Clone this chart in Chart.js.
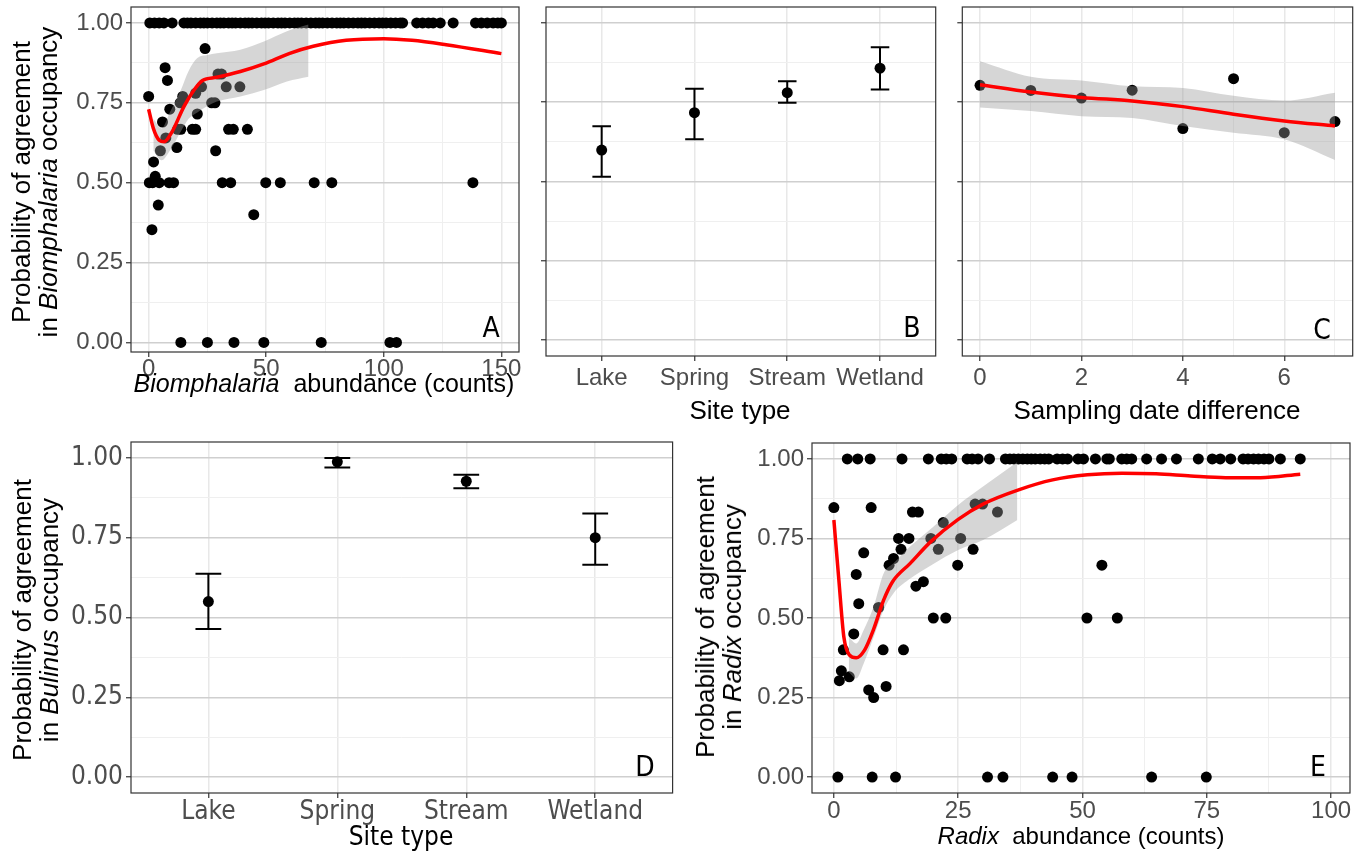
<!DOCTYPE html>
<html>
<head>
<meta charset="utf-8">
<script src="https://cdn.jsdelivr.net/npm/chart.js@4.4.1/dist/chart.umd.min.js"></script>
<style>
  body { margin: 0; width: 1364px; height: 859px; background: #fff; position: relative; overflow: hidden;
         font-family: 'Liberation Sans', Arial, sans-serif; }
  canvas { position: absolute; }
  .ytitle { position: absolute; transform: translate(-50%, -50%) rotate(-90deg); white-space: nowrap;
            text-align: center; font-size: 26px; line-height: 27px; color: #000; }
  .xtitle { position: absolute; transform: translate(-50%, -50%); white-space: nowrap; font-size: 26px; color: #000; }
  .narrow { font-family: 'Liberation Sans Narrow', 'DejaVu Sans Condensed', 'Liberation Sans', sans-serif; }
  .tag { position: absolute; transform: translate(-50%, -50%); font-size: 28px; color: #000;
         font-family: 'Liberation Sans Narrow', 'DejaVu Sans Condensed', 'Liberation Sans', sans-serif; }
</style>
</head>
<body>
<canvas id="cA"></canvas>
<canvas id="cB"></canvas>
<canvas id="cC"></canvas>
<canvas id="cD"></canvas>
<canvas id="cE"></canvas>

<div class="ytitle" style="left:35px;top:182px">Probability of agreement<br>in <i>Biomphalaria</i> occupancy</div>
<div class="xtitle" style="left:324px;top:383px;font-size:25px"><i>Biomphalaria</i>&nbsp; abundance (counts)</div>
<div class="xtitle" style="left:740px;top:410px">Site type</div>
<div class="xtitle" style="left:1157px;top:410px">Sampling date difference</div>
<div class="ytitle" style="left:36px;top:620px">Probability of agreement<br>in <i>Bulinus</i> occupancy</div>
<div class="xtitle narrow" style="left:401px;top:836px;font-size:26px">Site type</div>
<div class="ytitle" style="left:719px;top:617px">Probability of agreement<br>in <i>Radix</i> occupancy</div>
<div class="xtitle" style="left:1081px;top:836px;font-size:24px"><i>Radix</i>&nbsp; abundance (counts)</div>

<div class="tag" style="left:491px;top:327px">A</div>
<div class="tag" style="left:912px;top:327px">B</div>
<div class="tag" style="left:1322px;top:329px">C</div>
<div class="tag" style="left:645px;top:766px">D</div>
<div class="tag" style="left:1318px;top:766px">E</div>

<script>
//Panel A - Biomphalaria abundance vs agreement
//points sitting on agreement = 1
const bioTopCounts = [0.5, 2.5, 4.5, 6.5, 10, 15, 16.5, 18, 20, 22, 23.5, 25, 27, 29, 30.5, 32, 34, 35.5, 37, 39,
  41, 42.5, 44, 46, 48, 49.5, 51, 53, 55, 56.5, 58, 60, 62, 63.5, 65, 67, 69, 71, 72.5, 74, 76, 78, 80, 81.5,
  83, 85, 87, 89, 90.5, 92, 94, 96, 98, 99.5, 101, 103, 105, 107, 108, 114, 116.5, 119, 121, 124, 129.5,
  139, 141.5, 144, 146.5, 148.5, 150];
//points sitting on agreement = 0
const bioZeroCounts = [13.7, 25, 36.3, 49, 73.4, 102.6, 105.4];
//everything in between
const bioCounts = [0, 24, 7, 8, 29.5, 31, 33, 38.8, 22.5, 20, 14.5, 13.4, 26.8, 28.2, 9, 20.7, 5.9, 12.3, 13.7,
  18.6, 20, 34, 36, 42, 7.3, 5, 12, 28.5, 2.1, 2.8, 0.3, 1.7, 4.5, 8.7, 10.6, 31.3, 34.9, 49.8, 56, 70.4, 77.9,
  137.9, 4.1, 44.7, 1.4];
const bioAgree = [0.77, 0.92, 0.86, 0.82, 0.84, 0.84, 0.80, 0.80, 0.80, 0.78, 0.77, 0.75, 0.75, 0.75, 0.73, 0.715,
  0.69, 0.667, 0.667, 0.667, 0.667, 0.667, 0.667, 0.667, 0.64, 0.60, 0.61, 0.60, 0.565, 0.52, 0.5, 0.5, 0.5, 0.5,
  0.5, 0.5, 0.5, 0.5, 0.5, 0.5, 0.5, 0.5, 0.43, 0.40, 0.353];
//loess fit + ribbon
const bioFitX = [0, 2, 4.5, 6.6, 10, 15, 19.3, 22.9, 29, 39, 49, 60, 70, 84, 100, 112, 126.5, 150];
const bioFitY = [0.73, 0.67, 0.633, 0.628, 0.66, 0.738, 0.79, 0.82, 0.83, 0.848, 0.872, 0.905, 0.927, 0.946,
  0.951, 0.946, 0.932, 0.904];
const bioBandX = [2, 5.5, 9, 13.7, 17, 20.7, 25, 29, 39, 49, 58.8, 68];
const bioBandLo = [0.60, 0.57, 0.60, 0.66, 0.70, 0.72, 0.74, 0.754, 0.77, 0.79, 0.817, 0.832];
const bioBandHi = [0.70, 0.67, 0.72, 0.79, 0.85, 0.89, 0.90, 0.905, 0.916, 0.942, 0.974, 0.995];

//Panel B and D - site types
const siteTypes = ['Lake', 'Spring', 'Stream', 'Wetland'];
const bioSiteMean = [0.599, 0.717, 0.78, 0.857];
const bioSiteLo = [0.515, 0.633, 0.748, 0.79];
const bioSiteHi = [0.674, 0.792, 0.816, 0.923];
const bulSiteMean = [0.55, 0.988, 0.927, 0.75];
const bulSiteLo = [0.464, 0.97, 0.905, 0.665];
const bulSiteHi = [0.637, 1.0, 0.947, 0.826];

//Panel C - sampling date difference
const dateDiff = [0, 1, 2, 3, 4, 5, 6, 7];
const dateAgree = [0.803, 0.787, 0.763, 0.788, 0.667, 0.824, 0.654, 0.689];
const dateFit = [0.805, 0.782, 0.765, 0.754, 0.736, 0.712, 0.691, 0.675];
const dateBandLo = [0.733, 0.722, 0.706, 0.70, 0.675, 0.654, 0.633, 0.568];
const dateBandHi = [0.879, 0.83, 0.818, 0.80, 0.795, 0.77, 0.755, 0.78];

//Panel E - Radix abundance vs agreement
const radTopCounts = [2.7, 4.8, 7.3, 13.7, 19, 21.6, 22.6, 23.7, 26.8, 27.8, 29, 31.3, 34.5, 35.4, 36.2, 37.1,
  38, 38.9, 39.7, 40.5, 41.5, 42.4, 43.2, 44.9, 46, 47, 49.1, 50.2, 52.6, 54.9, 55.4, 57.9, 58.9, 59.9, 62.9,
  65.9, 68.9, 73.3, 76.1, 77.7, 79.8, 82.3, 83.3, 84.4, 85.4, 86.5, 87.5, 89.8, 93.8];
const radZeroCounts = [0.8, 7.7, 12.4, 30.9, 34, 44, 47.9, 63.9, 74.9];
const radCounts = [0, 7.5, 15.8, 17, 28.4, 29.9, 32.9, 22, 13, 15.1, 19.5, 25.5, 13.5, 21, 28, 6, 12, 11.1, 24.9,
  53.9, 4.5, 16.5, 18, 5, 9, 20, 22.5, 50.9, 57, 4, 1.9, 9.9, 14, 1.5, 3.1, 1.1, 7, 8, 10.5];
const radAgree = [0.847, 0.847, 0.833, 0.833, 0.858, 0.858, 0.833, 0.80, 0.75, 0.75, 0.75, 0.75, 0.716, 0.716,
  0.716, 0.705, 0.687, 0.666, 0.666, 0.666, 0.637, 0.60, 0.614, 0.545, 0.533, 0.5, 0.5, 0.5, 0.5, 0.45, 0.40,
  0.40, 0.40, 0.334, 0.315, 0.303, 0.274, 0.25, 0.285];
const radFitX = [0, 1, 2, 3.1, 4.5, 6.2, 8, 10, 11.8, 15.3, 19.5, 25, 30, 37, 44, 51, 57.9, 64.8, 71.8, 78.8,
  85.8, 93.8];
const radFitY = [0.808, 0.62, 0.441, 0.384, 0.375, 0.40, 0.465, 0.556, 0.614, 0.671, 0.74, 0.81, 0.858, 0.902,
  0.934, 0.95, 0.955, 0.953, 0.946, 0.941, 0.941, 0.952];
const radBandX = [3, 4.5, 6, 8, 10, 12, 15, 20, 25, 30, 36.9];
const radBandLo = [0.33, 0.31, 0.357, 0.44, 0.525, 0.578, 0.62, 0.67, 0.714, 0.745, 0.808];
const radBandHi = [0.44, 0.42, 0.462, 0.536, 0.64, 0.672, 0.72, 0.787, 0.855, 0.913, 0.99];

//y axis ticks shared by all panels (minor every 0.125)
const probTicks = [0, 0.125, 0.25, 0.375, 0.5, 0.625, 0.75, 0.875, 1];

//Chart.js defaults
Chart.defaults.font.family = "'Liberation Sans', Arial, sans-serif";
Chart.defaults.color = '#4d4d4d';
Chart.defaults.animation = false;
Chart.defaults.events = [];
Chart.defaults.plugins.legend.display = false;
Chart.defaults.plugins.tooltip.enabled = false;

const tickFont = { size: 24 };
const narrowFont = { size: 26, family: "'Liberation Sans Narrow', 'DejaVu Sans Condensed', 'Liberation Sans', sans-serif" };

function isMajor(v, step) {
  return Math.abs(v / step - Math.round(v / step)) < 1e-6;
}

//ggplot style panel border on all four sides
const panelBorder = {
  id: 'panelBorder',
  afterDraw(chart) {
    const { ctx, chartArea: a } = chart;
    ctx.save();
    ctx.strokeStyle = '#333';
    ctx.lineWidth = 1.2;
    ctx.strokeRect(a.left, a.top, a.right - a.left, a.bottom - a.top);
    ctx.restore();
  },
};

//axis with major + minor grid, labels only on the major ones
function gridAxis(min, max, tickVals, majorStep, labelFn, font, pad, hColor) {
  const major = (c) => c.tick && isMajor(c.tick.value, majorStep);
  return {
    type: 'linear',
    min,
    max,
    afterBuildTicks: (s) => {
      s.ticks = tickVals.map((v) => ({ value: v }));
    },
    ticks: {
      autoSkip: false,
      maxRotation: 0,
      font,
      color: '#4d4d4d',
      padding: pad,
      callback: (v) => (isMajor(v, majorStep) ? labelFn(v) : ''),
    },
    grid: {
      color: (c) => (major(c) ? hColor : '#efefef'),
      lineWidth: (c) => (major(c) ? 1.5 : 1),
      tickColor: (c) => (major(c) ? '#333' : 'rgba(0,0,0,0)'),
      tickLength: 5,
      tickWidth: 1.2,
    },
    border: { display: false },
  };
}

const probAxis = (min, max, show, font) =>
  gridAxis(min, max, probTicks, 0.25, (v) => (show ? v.toFixed(2) : ''), font || tickFont, 3, '#cfcfcf');

const siteAxis = (font, pad) =>
  gridAxis(0.4, 4.6, [1, 2, 3, 4], 1, (v) => siteTypes[v - 1], font, pad, '#e8e8e8');

const pts = (xs, ys) => xs.map((x, i) => ({ x, y: ys[i] }));
const flat = (xs, y) => xs.map((x) => ({ x, y }));

function dots(data) {
  return {
    data,
    showLine: false,
    pointRadius: 5.5,
    pointBackgroundColor: '#000',
    pointBorderColor: '#000',
    pointBorderWidth: 0,
    order: 3,
  };
}

function smooth(data) {
  return {
    data,
    borderColor: '#ff0000',
    borderWidth: 3.5,
    pointRadius: 0,
    cubicInterpolationMode: 'monotone',
    order: 0,
  };
}

//lower edge then upper edge filled down to it
function ribbon(xs, lo, hi) {
  const edge = { borderWidth: 0, pointRadius: 0, cubicInterpolationMode: 'monotone', order: 1 };
  return [
    { ...edge, data: pts(xs, lo) },
    { ...edge, data: pts(xs, hi), fill: '-1', backgroundColor: 'rgba(153,153,153,0.4)' },
  ];
}

//error bars as one broken line: top cap, stem, bottom cap
function errorBars(xs, lo, hi, halfCap) {
  const data = [];
  xs.forEach((x, i) => {
    data.push(
      { x: x - halfCap, y: hi[i] }, { x: x + halfCap, y: hi[i] }, { x, y: null },
      { x, y: hi[i] }, { x, y: lo[i] }, { x, y: null },
      { x: x - halfCap, y: lo[i] }, { x: x + halfCap, y: lo[i] }, { x, y: null }
    );
  });
  return { data, borderColor: '#000', borderWidth: 2, pointRadius: 0, spanGaps: false, order: 1 };
}

//box = canvas rect, area = wanted plot rect (page px)
function panel(id, box, area, xScale, yScale, datasets) {
  const cv = document.getElementById(id);
  cv.width = box.w;
  cv.height = box.h;
  cv.style.left = box.x + 'px';
  cv.style.top = box.y + 'px';
  cv.style.width = box.w + 'px';
  cv.style.height = box.h + 'px';
  xScale.afterFit = (s) => { s.height = box.y + box.h - area.bottom; };
  yScale.afterFit = (s) => { s.width = area.left - box.x; };
  return new Chart(cv, {
    type: 'line',
    data: { datasets },
    options: {
      responsive: false,
      devicePixelRatio: 1,
      layout: { padding: { top: area.top - box.y, right: box.x + box.w - area.right, left: 0, bottom: 0 } },
      scales: { x: xScale, y: yScale },
    },
    plugins: [panelBorder],
  });
}

const siteX = [1, 2, 3, 4];

//A
panel('cA', { x: 0, y: -40, w: 560, h: 420 }, { left: 131, top: 7, right: 519, bottom: 352 },
  gridAxis(-7.5, 157.5, [0, 25, 50, 75, 100, 125, 150], 50, (v) => String(v), tickFont, -2, '#e8e8e8'),
  probAxis(-0.03, 1.05, true),
  [
    smooth(pts(bioFitX, bioFitY)),
    ...ribbon(bioBandX, bioBandLo, bioBandHi),
    dots([...flat(bioTopCounts, 1), ...flat(bioZeroCounts, 0), ...pts(bioCounts, bioAgree)]),
  ]);

//B
panel('cB', { x: 540, y: -40, w: 440, h: 440 }, { left: 546, top: 7, right: 935.7, bottom: 356 },
  siteAxis(tickFont, 3),
  probAxis(-0.05, 1.05, false),
  [errorBars(siteX, bioSiteLo, bioSiteHi, 0.1), dots(pts(siteX, bioSiteMean))]);

//C
panel('cC', { x: 955, y: -40, w: 409, h: 440 }, { left: 962.3, top: 7, right: 1352.7, bottom: 356 },
  gridAxis(-0.35, 7.35, dateDiff, 2, (v) => String(v), tickFont, 3, '#e8e8e8'),
  probAxis(-0.05, 1.05, false),
  [
    smooth(pts(dateDiff, dateFit)),
    ...ribbon(dateDiff, dateBandLo, dateBandHi),
    dots(pts(dateDiff, dateAgree)),
  ]);

//D
panel('cD', { x: 0, y: 400, w: 700, h: 430 }, { left: 131, top: 442, right: 672.6, bottom: 793 },
  siteAxis(narrowFont, -1),
  probAxis(-0.05, 1.05, true, narrowFont),
  [errorBars(siteX, bulSiteLo, bulSiteHi, 0.1), dots(pts(siteX, bulSiteMean))]);

//E
panel('cE', { x: 740, y: 400, w: 624, h: 430 }, { left: 812, top: 443, right: 1350, bottom: 793 },
  gridAxis(-4.4, 103.8, [0, 12.5, 25, 37.5, 50, 62.5, 75, 87.5, 100], 25, (v) => String(v), tickFont, -1, '#e8e8e8'),
  probAxis(-0.05, 1.05, true),
  [
    smooth(pts(radFitX, radFitY)),
    ...ribbon(radBandX, radBandLo, radBandHi),
    dots([...flat(radTopCounts, 1), ...flat(radZeroCounts, 0), ...pts(radCounts, radAgree)]),
  ]);
</script>
</body>
</html>
